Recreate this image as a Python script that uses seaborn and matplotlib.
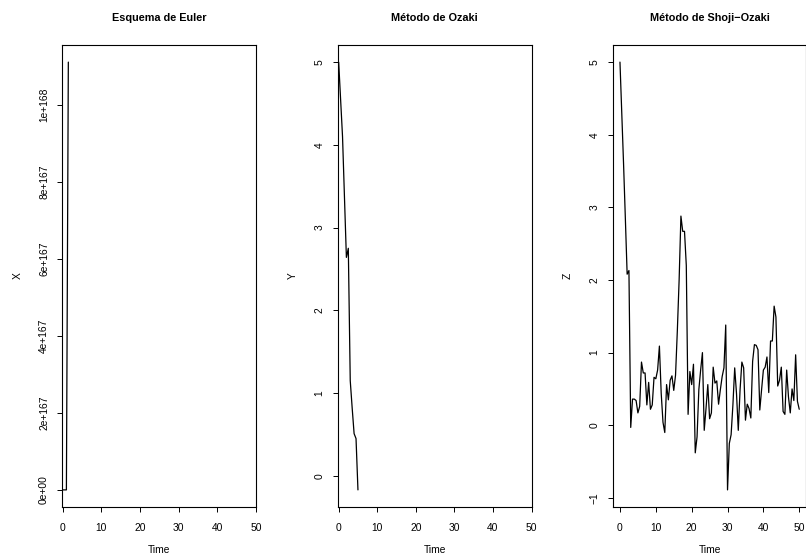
import numpy as np
import pandas as pd
import matplotlib
matplotlib.use("Agg")
import matplotlib.pyplot as plt
from matplotlib.ticker import FuncFormatter, MultipleLocator
import seaborn as sns

# ---- data ----
time = [i * 0.5 for i in range(101)]

euler_x = [5.0, -2.3e18, 4.8e55, 1.11e168] + [np.nan] * 97

ozaki_y = [5.00, 4.55, 4.10, 3.37, 2.64, 2.75, 1.15, 0.82, 0.51, 0.45, -0.17] + [np.nan] * 90

shoji_z = [
    5.00, 4.30, 3.60, 2.85, 2.08, 2.13, -0.03, 0.36, 0.36, 0.34,
    0.17, 0.26, 0.87, 0.72, 0.72, 0.28, 0.59, 0.22, 0.28, 0.66,
    0.64, 0.76, 1.09, 0.44, 0.04, -0.10, 0.56, 0.35, 0.62, 0.68,
    0.48, 0.69, 1.30, 2.00, 2.88, 2.67, 2.67, 2.20, 0.15, 0.74,
    0.56, 0.84, -0.38, -0.16, 0.49, 0.76, 1.00, -0.07, 0.23, 0.56,
    0.09, 0.17, 0.80, 0.58, 0.61, 0.29, 0.49, 0.67, 0.79, 1.38,
    -0.89, -0.25, -0.13, 0.28, 0.79, 0.44, -0.07, 0.49, 0.87, 0.79,
    0.07, 0.29, 0.23, 0.10, 0.88, 1.11, 1.10, 1.04, 0.21, 0.49,
    0.76, 0.80, 0.94, 0.45, 1.16, 1.16, 1.64, 1.49, 0.54, 0.62,
    0.80, 0.19, 0.15, 0.76, 0.39, 0.17, 0.50, 0.34, 0.97, 0.33,
    0.22,
]

titles = ["Esquema de Euler", "Método de Ozaki", "Método de Shoji\u2212Ozaki"]
ylabels = ["X", "Y", "Z"]
xlabel = "Time"
xticks = [0, 10, 20, 30, 40, 50]

# ---- styling ----
sns.set_style("ticks")
plt.rcParams["font.family"] = ["Liberation Sans", "DejaVu Sans"]
plt.rcParams["axes.unicode_minus"] = True
plt.rcParams["text.color"] = "black"
plt.rcParams["axes.labelcolor"] = "black"
plt.rcParams["xtick.color"] = "black"
plt.rcParams["ytick.color"] = "black"

W, H = 806, 560
fig = plt.figure(figsize=(W / 100, H / 100), dpi=100)

box_bottom = (H - 507) / H
box_height = 462 / H
box_width = 193.6 / W
lefts = [62.3 / W, 337.9 / W, 612.8 / W]

series = [euler_x, ozaki_y, shoji_z]

for i, (vals, title, ylab) in enumerate(zip(series, titles, ylabels)):
    ax = fig.add_axes([lefts[i], box_bottom, box_width, box_height])
    df = pd.DataFrame({"Time": time, "val": vals}).dropna()
    sns.lineplot(data=df, x="Time", y="val", ax=ax, color="black",
                 linewidth=0.9, estimator=None, sort=False)
    ax.margins(x=0.04, y=0.04)
    ax.set_xticks(xticks)
    ax.set_xlabel(xlabel, fontsize=7.4, labelpad=9)
    ax.set_ylabel(ylab, fontsize=7.4, labelpad=12)
    ax.set_title(title, fontsize=7.8, fontweight="bold", pad=17)
    for s in ax.spines.values():
        s.set_visible(True)
        s.set_color("black")
        s.set_linewidth(0.8)
    ax.tick_params(axis="both", direction="out", length=3.5, width=0.7,
                   color="black", labelsize=7.4, pad=6)
    ax.tick_params(axis="x", pad=8)
    if i == 0:
        ax.yaxis.set_major_locator(MultipleLocator(2e167))
        ax.yaxis.set_major_formatter(
            FuncFormatter(lambda v, p: "0e+00" if v == 0 else f"{v:.0e}"))
    else:
        ax.yaxis.set_major_locator(MultipleLocator(1))
    ax.grid(False)

for ax in fig.axes:
    plt.setp(ax.get_yticklabels(), rotation=90, va="center")

fig.savefig("out.png", dpi=100)
